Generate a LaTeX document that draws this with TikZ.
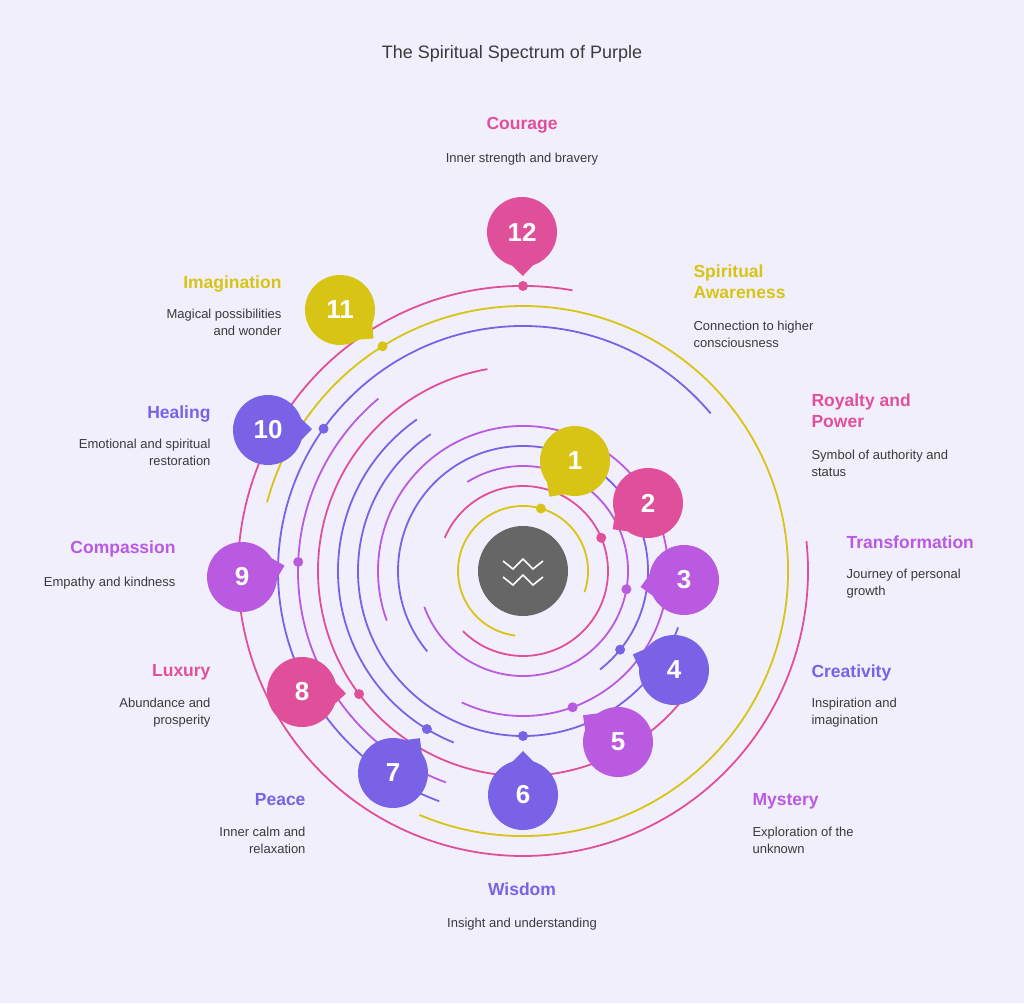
\documentclass[tikz,border=0pt]{standalone}
\usepackage{fontspec}
\setmainfont{Liberation Sans}
\usetikzlibrary{calc}
\definecolor{cy}{HTML}{D8C414}
\definecolor{cp}{HTML}{E0509A}
\definecolor{cu}{HTML}{B95AE0}
\definecolor{cb}{HTML}{7A62E6}
\definecolor{bg}{HTML}{F1EFFC}
\definecolor{tx}{HTML}{3A3A3A}
\tikzset{ttl/.style={font=\bfseries\fontsize{17.5}{21}\selectfont,align=left},
desc/.style={font=\fontsize{13}{17}\selectfont,text=tx,align=left},
num/.style={font=\bfseries\fontsize{26}{26}\selectfont,text=white}}
\begin{document}
\begin{tikzpicture}[x=1pt,y=1pt]
\fill[bg] (0,0) rectangle (1024,1003);
\useasboundingbox (0,0) rectangle (1024,1003);
\coordinate (c) at (523,432);
\node[font=\fontsize{18}{20}\selectfont,text=tx] (title) at (512,949) {The Spiritual Spectrum of Purple};
\foreach \i/\col/\a/\b/\d in {1/cy/-19/263/74, 2/cp/-135/157/23, 3/cu/-160/122/-10, 4/cb/-52/220/-39,
 5/cu/-115/200/-70, 6/cb/124/340/-90, 7/cb/125/248/238.7, 8/cp/100/330/216.9, 9/cu/130/250/177.7,
 10/cb/40/250/144.5, 11/cy/-113/165/122, 12/cp/80/366/90}{
  \pgfmathsetmacro\r{45+20*\i}
  \draw[\col,line width=1.8pt] ($(c)+(\a:\r)$) arc[start angle=\a,end angle=\b,radius=\r];
  \fill[\col] ($(c)+(\d:\r)$) circle (5);
  \coordinate (d\i) at ($(c)+(\d:\r)$);
}
\fill[black!60] (c) circle (45);
\draw[white,line width=1.6pt] (503,442) -- (513,434) -- (523,444) -- (533,434) -- (543,442);
\draw[white,line width=1.6pt] (503,426) -- (513,418) -- (523,428) -- (533,418) -- (543,426);
\foreach \i/\col/\x/\y in {1/cy/575/542, 2/cp/648/500, 3/cu/684/423, 4/cb/674/333, 5/cu/618/261,
 6/cb/523/208, 7/cb/393/230, 8/cp/302/311, 9/cu/242/426, 10/cb/268/573, 11/cy/340/693, 12/cp/522/771}{
  \coordinate (b\i) at (\x,\y);
  \fill[\col] ($(b\i)!44pt!(d\i)$) -- ($(b\i)!33pt!25:(d\i)$) -- ($(b\i)!33pt!-25:(d\i)$) -- cycle;
  \fill[\col] (b\i) circle (35);
  \node[num] (n\i) at (b\i) {\i};
}
\node[ttl,text=cp] (l12) at (522,878) {Courage};
\node[desc] (e12) at (522,844) {Inner strength and bravery};
\node[ttl,text=cy,anchor=north west] (l11) at (690,742) {Spiritual\\Awareness};
\node[desc,anchor=north west] (e11) at (690,685) {Connection to higher\\consciousness};
\node[ttl,text=cp,anchor=north west] (l1) at (808,613) {Royalty and\\Power};
\node[desc,anchor=north west] (e1) at (808,556) {Symbol of authority and\\status};
\node[ttl,text=cu,anchor=north west] (l2) at (843,471) {Transformation};
\node[desc,anchor=north west] (e2) at (843,437) {Journey of personal\\growth};
\node[ttl,text=cb,anchor=north west] (l3) at (808,342) {Creativity};
\node[desc,anchor=north west] (e3) at (808,308) {Inspiration and\\imagination};
\node[ttl,text=cu,anchor=north west] (l4) at (749,213) {Mystery};
\node[desc,anchor=north west] (e4) at (749,179) {Exploration of the\\unknown};
\node[ttl,text=cb] (l5) at (522,114) {Wisdom};
\node[desc] (e5) at (522,79) {Insight and understanding};
\node[ttl,text=cb,anchor=north east,align=right] (l6) at (309,213) {Peace};
\node[desc,anchor=north east,align=right] (e6) at (309,179) {Inner calm and\\relaxation};
\node[ttl,text=cp,anchor=north east,align=right] (l7) at (214,342) {Luxury};
\node[desc,anchor=north east,align=right] (e7) at (214,308) {Abundance and\\prosperity};
\node[ttl,text=cu,anchor=north east,align=right] (l8) at (179,466) {Compassion};
\node[desc,anchor=north east,align=right] (e8) at (179,429) {Empathy and kindness};
\node[ttl,text=cb,anchor=north east,align=right] (l9) at (214,601) {Healing};
\node[desc,anchor=north east,align=right] (e9) at (214,567) {Emotional and spiritual\\restoration};
\node[ttl,text=cy,anchor=north east,align=right] (l10) at (285,731) {Imagination};
\node[desc,anchor=north east,align=right] (e10) at (285,697) {Magical possibilities\\and wonder};
\end{tikzpicture}
\end{document}
